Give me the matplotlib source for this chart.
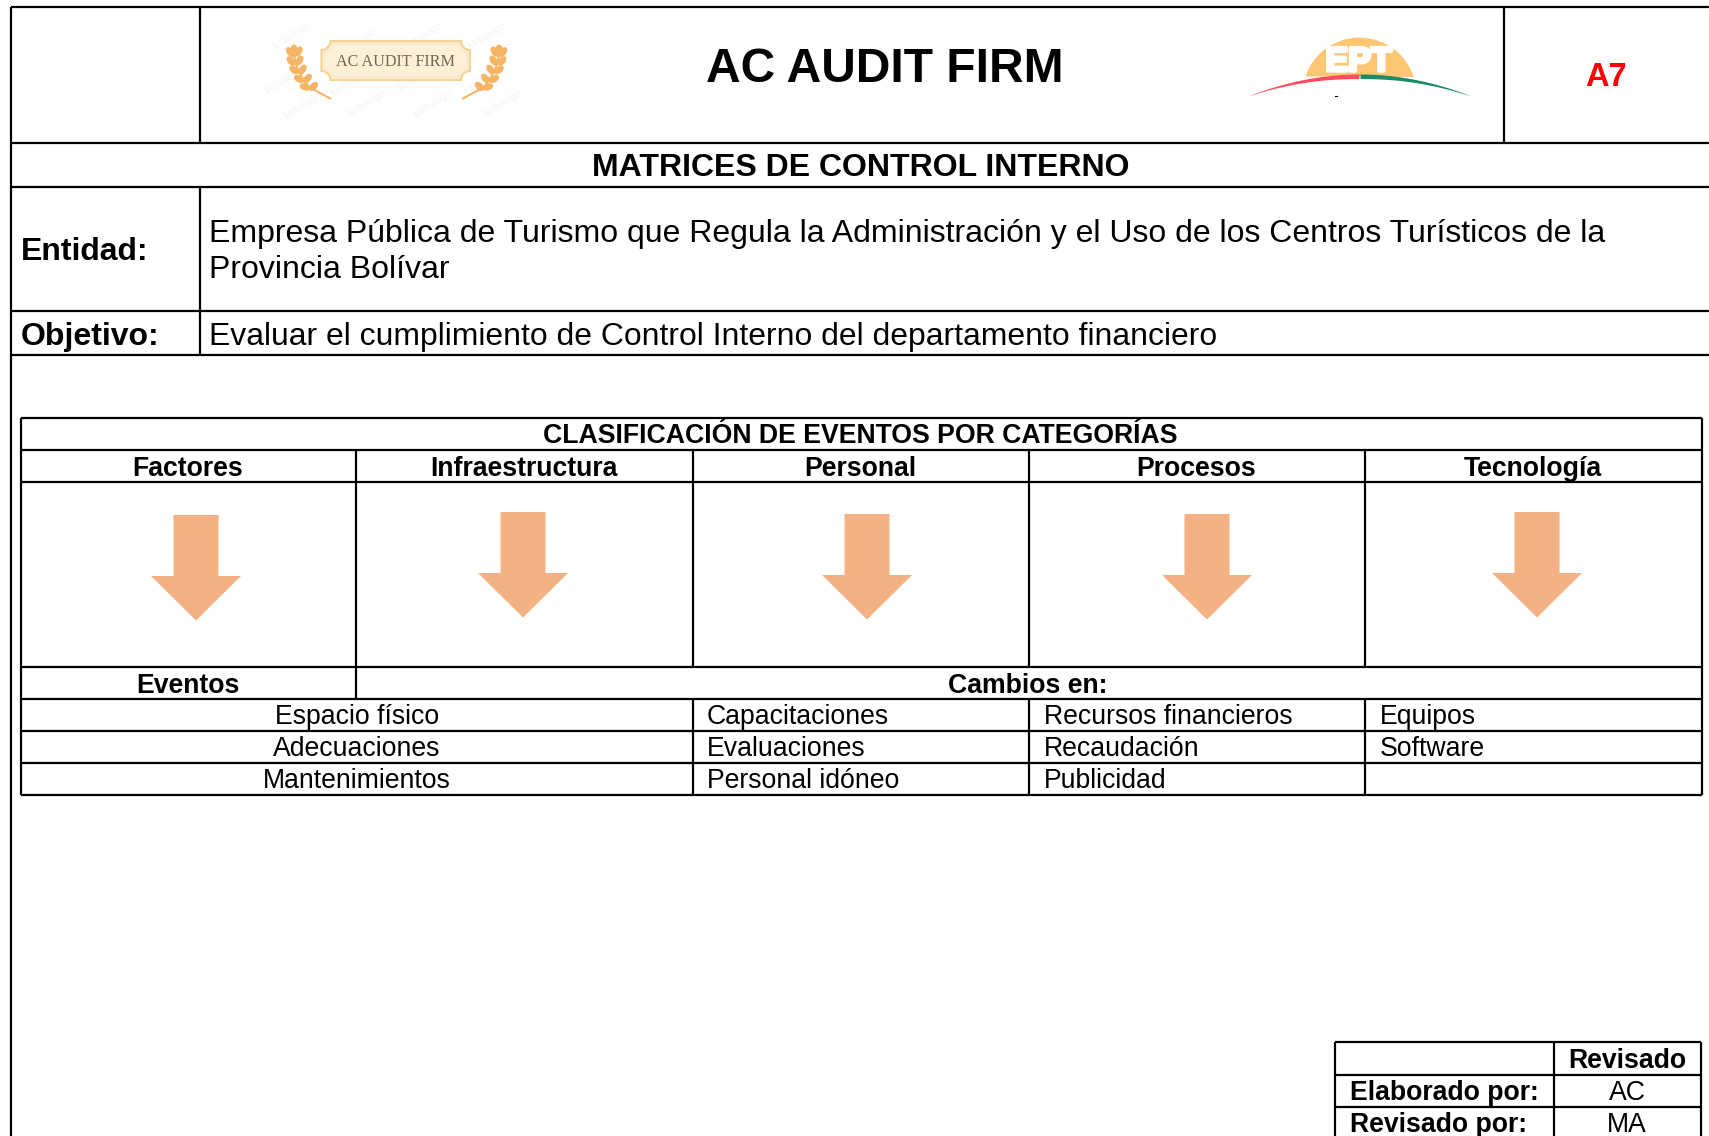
import numpy as np
import matplotlib
matplotlib.use("Agg")
import matplotlib.pyplot as plt
import matplotlib.patheffects as pe
from matplotlib.patches import Polygon, Ellipse

plt.rcParams['font.family'] = ['Liberation Sans', 'DejaVu Sans']

title = "AC AUDIT FIRM"
subtitle = "MATRICES DE CONTROL INTERNO"
code = "A7"
entidad = "Empresa Pública de Turismo que Regula la Administración y el Uso de los Centros Turísticos de la"
entidad2 = "Provincia Bolívar"
objetivo = "Evaluar el cumplimiento de Control Interno del departamento financiero"
table_title = "CLASIFICACIÓN DE EVENTOS POR CATEGORÍAS"
factores = ["Factores", "Infraestructura", "Personal", "Procesos", "Tecnología"]
col1 = ["Espacio físico", "Adecuaciones", "Mantenimientos"]
col2 = ["Capacitaciones", "Evaluaciones", "Personal idóneo"]
col3 = ["Recursos financieros", "Recaudación", "Publicidad"]
col4 = ["Equipos", "Software", ""]

W, H = 1709, 1136
fig = plt.figure(figsize=(W / 100, H / 100), dpi=100)
ax = fig.add_axes([0, 0, 1, 1])
ax.set_xlim(0, W)
ax.set_ylim(H, 0)
ax.axis('off')

LW = 1.6
FS = 19.2
def hl(y, x0, x1, lw=LW):
    ax.plot([x0, x1], [y, y], color='black', lw=lw, solid_capstyle='butt', zorder=3)
def vl(x, y0, y1, lw=LW):
    ax.plot([x, x], [y0, y1], color='black', lw=lw, solid_capstyle='butt', zorder=3)
def txt(x, y, s, size, bold=False, ha='center', color='black', **kw):
    ax.text(x, y - 0.5, s, fontsize=size, fontweight='bold' if bold else 'normal', ha=ha,
            va='center_baseline', color=color, zorder=4, **kw)

# Header frame
for y in (7, 143, 187, 311, 355):
    hl(y, 11, W)
vl(11, 7, H)
vl(199.5, 7, 143)
vl(1503.5, 7, 143)
vl(199.5, 187, 355)

txt(884.5, 65, title, 34.5, True)
txt(1606, 75, code, 23.5, True, color='#ff0000')
txt(860.5, 164.5, subtitle, 23.05, True)
txt(21, 248.5, "Entidad:", 23, True, ha='left')
txt(209, 231, entidad, 23.05, ha='left')
txt(209, 267, entidad2, 23.05, ha='left')
txt(21, 333.5, "Objetivo:", 23, True, ha='left')
txt(209, 333.5, objetivo, 22.95, ha='left')

# Left logo: faint watermarks
for wx, wy in [(292, 35), (357, 42), (423, 35), (487, 35), (284, 80), (350, 82),
               (417, 77), (487, 77), (303, 105), (367, 103), (433, 103), (503, 103)]:
    ax.text(wx, wy, "turbologo", fontsize=7.5, color='#f5f5f5', rotation=32,
            ha='center', va='center', zorder=1)

# Left logo: plaque with concave corners
def plaque(x0, x1, y0, y1, r):
    a = np.linspace(0, np.pi / 2, 12)
    pts = []
    pts += [(x0 + r * np.sin(t), y0 + r * np.cos(t)) for t in a]
    pts += [(x1 - r * np.cos(t), y0 + r * np.sin(t)) for t in a]
    pts += [(x1 - r * np.sin(t), y1 - r * np.cos(t)) for t in a]
    pts += [(x0 + r * np.cos(t), y1 - r * np.sin(t)) for t in a]
    return pts
ax.add_patch(Polygon(plaque(321.5, 470, 41, 80, 9), closed=True, fc='#fdf0d8', ec='#f2d398', lw=1.6, zorder=2))
ax.add_patch(Polygon(plaque(324.5, 467, 44, 77, 8), closed=True, fc='none', ec='#fbe8c6', lw=0.8, zorder=2))
ax.text(396, 62, title, family='Liberation Serif', fontsize=11.6, color='#75684f',
        ha='center', va='center', zorder=4)

gold = '#f4b565'
def laurel(sign):
    cx = 396.5
    fx = lambda v: cx + sign * (v - cx)
    stem_x = [294, 295, 298, 303, 309, 330]
    stem_y = [52, 61, 70, 79, 87, 98.5]
    ax.plot([fx(v) for v in stem_x], stem_y, color=gold, lw=1.5, zorder=2)
    ax.add_patch(Ellipse((fx(294), 51), 8, 13, fc=gold, ec='none', zorder=2))
    for sx, sy, a, b in zip(stem_x[:-1], stem_y[:-1], [55, 50, 40, 30, 20], [-60, -60, -55, -50, -45]):
        ax.add_patch(Ellipse((fx(sx - 4), sy), 11, 6.8, angle=sign * a, fc=gold, ec='none', zorder=2))
        ax.add_patch(Ellipse((fx(sx + 4.5), sy - 0.5), 11, 6.8, angle=sign * b, fc=gold, ec='none', zorder=2))
laurel(1)
laurel(-1)

# Right logo
t = np.linspace(0, 2 * np.pi, 300)
sun_x = 1359.5 + 57 * np.cos(t)
sun_y = 94.6 + 57 * np.sin(t)
keep = sun_y <= 77
ax.fill(sun_x[keep], sun_y[keep], color='#fec672', ec='none', zorder=2)
ax.text(1358.5, 62.5, "EPT", fontsize=24.5, fontweight='bold', color='white', ha='center',
        va='center', zorder=3, path_effects=[pe.withStroke(linewidth=2.5, foreground='white')])
bx = np.linspace(1251, 1469, 200)
u = (bx - 1360) / 109
by = 74.5 + 21 * u ** 2
bt = 4.3 * (1 - np.abs(u) ** 1.5) + 0.3
ax.fill_between(bx, by, by + bt, where=bx <= 1360, color='#fb4d5d', ec='none', zorder=3)
ax.fill_between(bx, by, by + bt, where=bx >= 1359.5, color='#1a8a68', ec='none', zorder=3)
ax.plot([1335, 1337], [95.5, 95.5], color='black', lw=0.8)

# Classification table
T_L, T_R = 21, 1701.5
cols = [21, 356, 693, 1029, 1365, 1701.5]
rows = [417.5, 450, 481.5, 666.5, 699, 731, 763, 795]
for y in rows:
    hl(y, T_L, T_R)
vl(T_L, rows[0], rows[-1]); vl(T_R, rows[0], rows[-1])
for x in cols[1:-1]:
    vl(x, rows[1], rows[3])
vl(cols[1], rows[3], rows[4])
for x in cols[2:-1]:
    vl(x, rows[4], rows[-1])

txt(860, 433.5, table_title, FS, True)
for i, name in enumerate(factores):
    txt((cols[i] + cols[i + 1]) / 2 - 0.5, 466, name, FS, True)
txt(188, 683.5, "Eventos", FS, True)
txt(1028, 683.5, "Cambios en:", FS, True)
for j in range(3):
    yc = (rows[4 + j] + rows[5 + j]) / 2
    txt((cols[0] + cols[2]) / 2, yc, col1[j], FS)
    txt(707, yc, col2[j], FS, ha='left')
    txt(1044, yc, col3[j], FS, ha='left')
    txt(1380, yc, col4[j], FS, ha='left')

# Arrows
arrow_cx = [196, 523, 867, 1207, 1537]
arrow_top = [515, 512, 514, 514, 512]
for cx, top in zip(arrow_cx, arrow_top):
    ax.add_patch(Polygon([(cx - 22.5, top), (cx + 22.5, top), (cx + 22.5, top + 61),
                          (cx + 45, top + 61), (cx, top + 105.5), (cx - 45, top + 61),
                          (cx - 22.5, top + 61)], closed=True, fc='#f4b183', ec='none', zorder=2))

# Sign-off table
for y in (1041.5, 1074.5, 1106.5):
    hl(y, 1334.5, 1701)
vl(1334.5, 1041.5, H); vl(1554, 1041.5, H); vl(1701, 1041.5, H)
txt(1627, 1058.5, "Revisado", FS, True)
txt(1350, 1090.5, "Elaborado por:", FS, True, ha='left')
txt(1627, 1090.5, "AC", FS)
txt(1350, 1122.5, "Revisado por:", FS, True, ha='left')
txt(1627, 1122.5, "MA", FS)

fig.savefig("out.png", dpi=100)
